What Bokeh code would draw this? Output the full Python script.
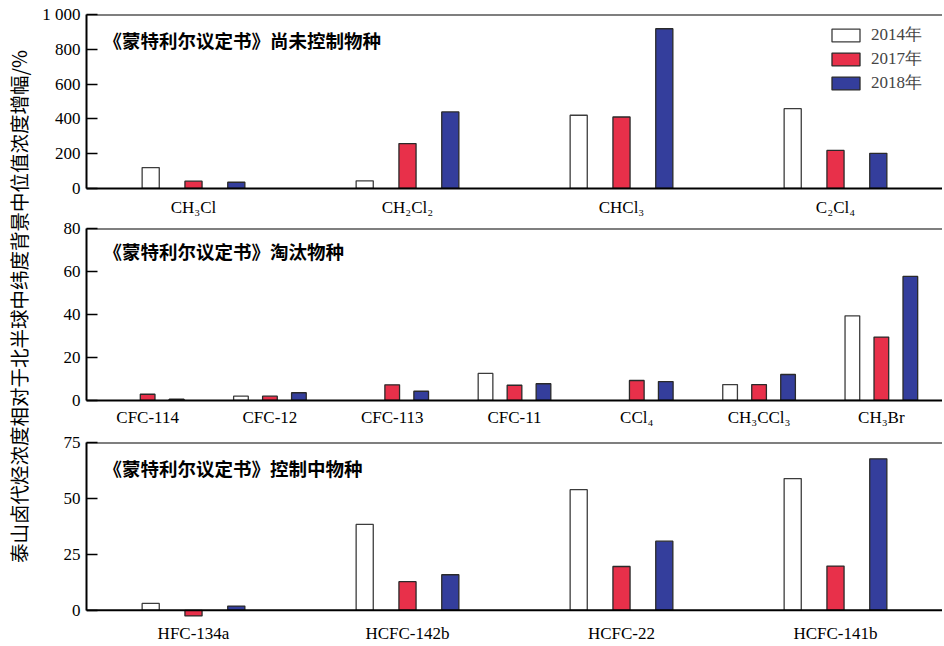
import math
from bokeh.plotting import figure
from bokeh.layouts import row, column
from bokeh.models import (FactorRange, Range1d, FixedTicker, Span, Label,
                          Legend, LegendItem, ColumnDataSource)
from bokeh.transform import dodge
from bokeh.embed import file_html
from bokeh.resources import INLINE

NAN = float("nan")

# ---------------- data ----------------
years = ["2014年", "2017年", "2018年"]

top_cats = ["CH₃Cl", "CH₂Cl₂", "CHCl₃", "C₂Cl₄"]
top_2014 = [120, 44, 421, 459]
top_2017 = [42, 258, 411, 219]
top_2018 = [36, 440, 918, 202]
top_ticks = [0, 200, 400, 600, 800, 1000]

mid_cats = ["CFC-114", "CFC-12", "CFC-113", "CFC-11", "CCl₄", "CH₃CCl₃", "CH₃Br"]
mid_2014 = [NAN, 2.0, NAN, 12.6, NAN, 7.4, 39.4]
mid_2017 = [2.9, 2.0, 7.3, 7.1, 9.3, 7.4, 29.5]
mid_2018 = [0.6, 3.6, 4.3, 7.8, 8.8, 12.1, 57.7]
mid_ticks = [0, 20, 40, 60, 80]

bot_cats = ["HFC-134a", "HCFC-142b", "HCFC-22", "HCFC-141b"]
bot_2014 = [3.1, 38.4, 53.9, 58.9]
bot_2017 = [-2.5, 12.8, 19.6, 19.8]
bot_2018 = [1.9, 15.9, 30.9, 67.7]
bot_ticks = [0, 25, 50, 75]

titles = ["《蒙特利尔议定书》尚未控制物种",
          "《蒙特利尔议定书》淘汰物种",
          "《蒙特利尔议定书》控制中物种"]
ylabel = "泰山卤代烃浓度相对于北半球中纬度背景中位值浓度增幅/%"

# ---------------- style ----------------
SERIF = "Liberation Serif"
CJK = "Noto Sans CJK SC"
RED = "#E8304A"
BLUE = "#343E9C"
EDGE = "#2a2a2a"
LABEL_W = 36
PANEL_W = 906
LEFT = 50


def make_panel(cats, v14, v17, v18, ymin, ymax, ticks, title, height,
               top_b, bot_b, bar_w, off, standoff, title_dy,
               zero_span=False, legend=False, overrides=None):
    p = figure(x_range=FactorRange(*cats), y_range=Range1d(ymin, ymax),
               width=PANEL_W, height=height, output_backend="svg",
               toolbar_location=None, min_border_left=LEFT,
               min_border_right=0, min_border_top=top_b,
               min_border_bottom=bot_b)
    p.outline_line_color = None
    p.xgrid.visible = False
    p.ygrid.visible = False
    src = ColumnDataSource(dict(cat=cats, y14=v14, y17=v17, y18=v18))
    r1 = p.vbar(x=dodge("cat", -off, range=p.x_range), top="y14", bottom=0,
                width=bar_w, source=src, fill_color="white",
                line_color="#3c3c3c", line_width=1.3)
    r2 = p.vbar(x=dodge("cat", 0, range=p.x_range), top="y17", bottom=0,
                width=bar_w, source=src, fill_color=RED,
                line_color=EDGE, line_width=1.3)
    r3 = p.vbar(x=dodge("cat", off, range=p.x_range), top="y18", bottom=0,
                width=bar_w, source=src, fill_color=BLUE,
                line_color=EDGE, line_width=1.3)

    # y axis
    ya = p.yaxis[0]
    ya.ticker = FixedTicker(ticks=ticks)
    ya.major_tick_in = 11
    ya.major_tick_out = 0
    ya.minor_tick_line_color = None
    ya.axis_line_width = 2
    ya.axis_line_color = "black"
    ya.major_tick_line_width = 1.5
    ya.major_tick_line_color = "black"
    ya.major_label_text_font = SERIF
    ya.major_label_text_font_size = "17px"
    ya.major_label_text_color = "black"
    ya.major_label_standoff = 6
    ya.bounds = (ticks[0], ticks[-1])
    if overrides:
        ya.major_label_overrides = overrides

    # x axis
    xa = p.xaxis[0]
    xa.major_tick_line_color = None
    xa.minor_tick_line_color = None
    xa.axis_line_width = 2
    xa.axis_line_color = "black"
    xa.major_label_text_font = SERIF
    xa.major_label_text_font_size = "17px"
    xa.major_label_text_color = "black"
    xa.major_label_standoff = standoff
    if zero_span:
        xa.axis_line_color = None
        p.add_layout(Span(location=0, dimension="width",
                          line_color="black", line_width=2))

    # top border
    p.add_layout(Span(location=ymax, dimension="width",
                      line_color="black", line_width=2))

    # panel title
    p.add_layout(Label(x=0, y=ymax, x_offset=17, y_offset=title_dy,
                       text=title, text_font=CJK, text_font_size="18.5px",
                       text_font_style="bold", text_baseline="middle",
                       text_color="black"))

    if legend:
        lg = Legend(items=[LegendItem(label=years[0], renderers=[r1]),
                           LegendItem(label=years[1], renderers=[r2]),
                           LegendItem(label=years[2], renderers=[r3])],
                    location=(742, 94), orientation="vertical")
        lg.border_line_color = None
        lg.background_fill_alpha = 0
        lg.padding = 0
        lg.margin = 0
        lg.spacing = 1
        lg.glyph_width = 35
        lg.glyph_height = 16
        lg.label_height = 22
        lg.label_standoff = 8
        lg.label_text_font = SERIF
        lg.label_text_font_size = "17px"
        lg.label_text_baseline = "middle"
        p.add_layout(lg)
    return p


p1 = make_panel(top_cats, top_2014, top_2017, top_2018, 0, 1000, top_ticks,
                titles[0], 219, 14, 31, 0.08, 0.2, 3, -25, legend=True,
                overrides={1000: "1 000"})
p2 = make_panel(mid_cats, mid_2014, mid_2017, mid_2018, 0, 80, mid_ticks,
                titles[1], 211, 9, 30, 0.12, 0.237, 1, -22)
p3 = make_panel(bot_cats, bot_2014, bot_2017, bot_2018, -3.2, 75, bot_ticks,
                titles[2], 215, 12, 28, 0.08, 0.2, 0, -25, zero_span=True)

# y label column
pl = figure(width=LABEL_W, height=645, x_range=Range1d(0, 1),
            y_range=Range1d(0, 1), output_backend="svg",
            toolbar_location=None, min_border=0)
pl.axis.visible = False
pl.grid.visible = False
pl.outline_line_color = None
pl.add_layout(Label(x=0.5, y=0.5256, angle=math.pi / 2, text=ylabel,
                    text_font=CJK, text_font_size="19.5px",
                    text_align="center", text_baseline="middle",
                    text_color="black"))

layout = row(pl, column(p1, p2, p3, spacing=0), spacing=0)

open("out.html", "w").write(file_html(layout, INLINE))
